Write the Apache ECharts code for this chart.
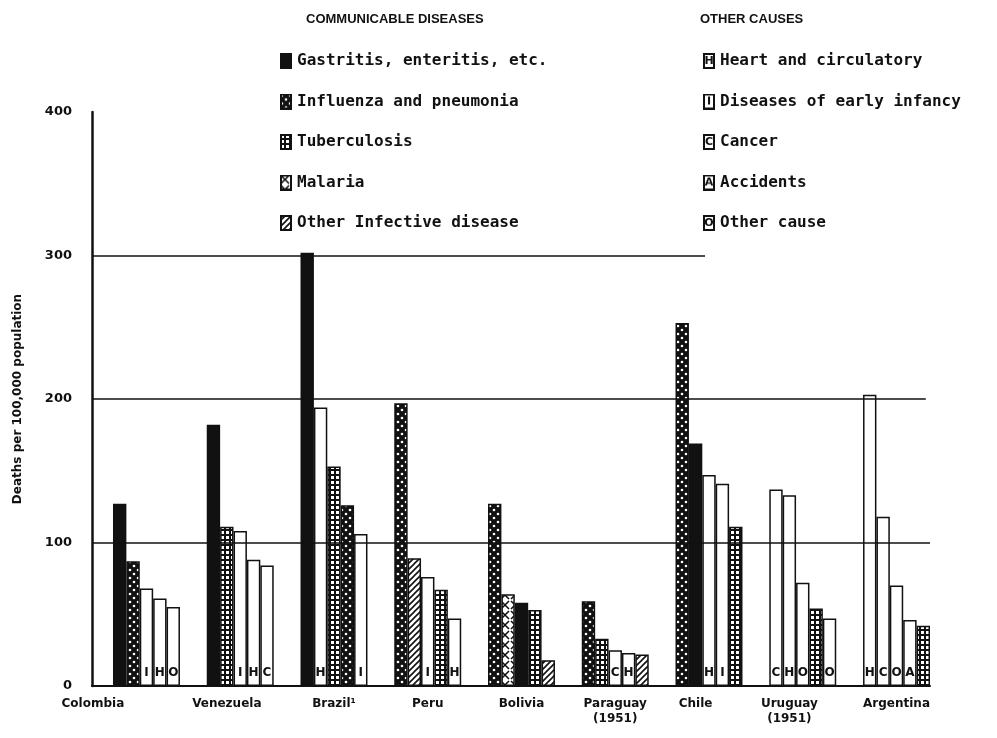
<!DOCTYPE html>
<html><head><meta charset="utf-8">
<script src="https://cdn.jsdelivr.net/npm/echarts@6/dist/echarts.min.js"></script>
<style>html,body{margin:0;padding:0;background:#fff}#c{width:997px;height:738px}</style>
</head><body><div id="c"></div>
<script>
// ---------- data ----------
const countries = ['Colombia','Venezuela','Brazil¹','Peru','Bolivia','Paraguay\n(1951)','Chile','Uruguay\n(1951)','Argentina'];
const communicableCodes = ['G','P','T','M','X'];
const communicableNames = ['Gastritis, enteritis, etc.','Influenza and pneumonia','Tuberculosis','Malaria','Other Infective disease'];
const otherCodes = ['H','I','C','A','O'];
const otherNames = ['Heart and circulatory','Diseases of early infancy','Cancer','Accidents','Other cause'];
// causes of the five bars in each country (left to right)
const barCauses = [
  ['G','P','I','H','O'],
  ['G','T','I','H','C'],
  ['G','H','T','P','I'],
  ['P','X','I','T','H'],
  ['P','M','G','T','X'],
  ['P','T','C','H','X'],
  ['P','G','H','I','T'],
  ['C','H','O','T','O'],
  ['H','C','O','A','T']
];
// deaths per 100,000 population
const barValues = [
  [127, 87, 68, 61, 55],
  [182,111,108, 88, 84],
  [302,194,153,126,106],
  [197, 89, 76, 67, 47],
  [127, 64, 58, 53, 18],
  [ 59, 33, 25, 23, 22],
  [253,169,147,141,111],
  [137,133, 72, 54, 47],
  [203,118, 70, 46, 42]
];
const yTicks = [0,100,200,300,400];

// ---------- layout ----------
const LEAD = 2, PER = 5, GAP = 2;
const slotCount = LEAD + countries.length*PER + (countries.length-1)*GAP;
const labelShift = [-2,1,2,2,2,2,1,1,2]; // slot of country label relative to group start
const groupStart = i => LEAD + i*(PER+GAP);
const slotNames = Array.from({length:slotCount},(_,i)=>'s'+i);
const slotLabels = {};
countries.forEach((c,i)=>{ slotLabels[groupStart(i)+labelShift[i]] = c; });

// ---------- patterns ----------
function tile(code){
  const c=document.createElement('canvas'); const g=c.getContext('2d');
  if(code==='G'){ c.width=4;c.height=4; g.fillStyle='#111'; g.fillRect(0,0,4,4); }
  else if(code==='P'){ c.width=8;c.height=8; g.fillStyle='#111'; g.fillRect(0,0,8,8); g.fillStyle='#fff';
    g.beginPath(); g.arc(2,2,1.3,0,7); g.fill(); g.beginPath(); g.arc(6,6,1.3,0,7); g.fill(); }
  else if(code==='T'){ c.width=5;c.height=5; g.fillStyle='#111'; g.fillRect(0,0,5,5); g.fillStyle='#fff'; g.fillRect(1,1,3,3); }
  else if(code==='M'){ c.width=10;c.height=10; g.fillStyle='#fff'; g.fillRect(0,0,10,10); g.strokeStyle='#111'; g.lineWidth=1.6;
    g.beginPath(); g.moveTo(1,1); g.lineTo(9,9); g.moveTo(9,1); g.lineTo(1,9); g.stroke(); }
  else if(code==='X'){ c.width=6;c.height=6; g.fillStyle='#fff'; g.fillRect(0,0,6,6); g.strokeStyle='#111'; g.lineWidth=1.6;
    g.beginPath(); g.moveTo(0,6); g.lineTo(6,0); g.moveTo(-1,1); g.lineTo(1,-1); g.moveTo(5,7); g.lineTo(7,5); g.stroke(); }
  else { c.width=4;c.height=4; g.fillStyle='#fff'; g.fillRect(0,0,4,4); }
  return c;
}
function icon(code, letter){
  const c=document.createElement('canvas'); c.width=12; c.height=16; const g=c.getContext('2d');
  g.fillStyle=g.createPattern(tile(code),'repeat'); g.fillRect(0,0,12,16);
  g.strokeStyle='#111'; g.lineWidth=2; g.strokeRect(1,1,10,14);
  if(letter){ g.fillStyle='#111'; g.font='bold 11px DejaVu Sans'; g.textAlign='center'; g.textBaseline='middle'; g.fillText(letter,6,8.5); }
  return 'image://'+c.toDataURL();
}

// ---------- series ----------
const allCodes = communicableCodes.concat(otherCodes);
const allNames = communicableNames.concat(otherNames);
const series = allCodes.map((code,ci)=>{
  const data = Array(slotCount).fill('-');
  barCauses.forEach((row,gi)=>row.forEach((cc,k)=>{ if(cc===code) data[groupStart(gi)+k] = barValues[gi][k]; }));
  const isOther = otherCodes.includes(code);
  return {
    name: allNames[ci], type:'bar', xAxisIndex:1, yAxisIndex:1, data,
    barWidth:'100%', barGap:'-100%', barCategoryGap:0, z:3, silent:true,
    itemStyle:{ color:{image:tile(code), repeat:'repeat'}, borderColor:'#111', borderWidth:1.5 },
    label:{ show:isOther, position:'insideBottom', distance:7, formatter: code, color:'#111',
      fontFamily:'DejaVu Sans', fontWeight:'bold', fontSize:12 }
  };
});
series.push({
  type:'line', xAxisIndex:0, yAxisIndex:0, data:[], silent:true, z:1,
  markLine:{ silent:true, animation:false, symbol:['none','none'], label:{show:false},
    lineStyle:{color:'#111', width:1.6, type:'solid'},
    data:[
      [{coord:[0,100]},{coord:[1,100]}],
      [{coord:[0,200]},{coord:[0.995,200]}],
      [{coord:[0,300]},{coord:[0.7315,300]}]
    ]}
});

const legendText = {fontFamily:'DejaVu Sans Mono', fontWeight:'bold', fontSize:16, color:'#111', lineHeight:16};
const chart = echarts.init(document.getElementById('c'), null, {renderer:'canvas'});
chart.setOption({
  animation:false,
  backgroundColor:'#fff',
  title:[
    {text:'COMMUNICABLE DISEASES', left:306, top:13, padding:0, textStyle:{fontFamily:'Liberation Sans', fontWeight:'bold', fontSize:13, color:'#111'}},
    {text:'OTHER CAUSES', left:700, top:13, padding:0, textStyle:{fontFamily:'Liberation Sans', fontWeight:'bold', fontSize:13, color:'#111'}}
  ],
  legend:[
    {orient:'vertical', left:280, top:53, padding:0, itemWidth:12, itemHeight:16, itemGap:24.5, selectedMode:false,
     textStyle:legendText, data: communicableNames.map((n,i)=>({name:n, icon:icon(communicableCodes[i])}))},
    {orient:'vertical', left:703, top:53, padding:0, itemWidth:12, itemHeight:16, itemGap:24.5, selectedMode:false,
     textStyle:legendText, data: otherNames.map((n,i)=>({name:n, icon:icon(otherCodes[i], otherCodes[i])}))}
  ],
  grid:[
    {left:92, right:67, top:112, bottom:52},
    {left:86.2, right:67, top:112, bottom:52}
  ],
  xAxis:[
    {gridIndex:0, type:'value', min:0, max:1, axisLine:{show:true, lineStyle:{color:'#111', width:2}},
     axisTick:{show:false}, axisLabel:{show:false}, splitLine:{show:false}},
    {gridIndex:1, type:'category', data:slotNames, axisLine:{show:false}, axisTick:{show:false}, splitLine:{show:false},
     axisLabel:{interval:0, margin:10, formatter:(v,i)=>slotLabels[i]||'', color:'#111',
       fontFamily:'DejaVu Sans', fontWeight:'bold', fontSize:12, lineHeight:15}}
  ],
  yAxis:[
    {gridIndex:0, type:'value', min:yTicks[0], max:yTicks[yTicks.length-1], interval:100,
     axisLine:{show:true, lineStyle:{color:'#111', width:2.5}}, axisTick:{show:false}, splitLine:{show:false},
     axisLabel:{margin:20, color:'#111', fontFamily:'DejaVu Sans', fontWeight:'bold', fontSize:13},
     name:'Deaths per 100,000 population', nameLocation:'middle', nameGap:68,
     nameTextStyle:{color:'#111', fontFamily:'DejaVu Sans', fontWeight:'bold', fontSize:12}},
    {gridIndex:1, type:'value', min:0, max:400, show:false}
  ],
  series
});
</script></body></html>
